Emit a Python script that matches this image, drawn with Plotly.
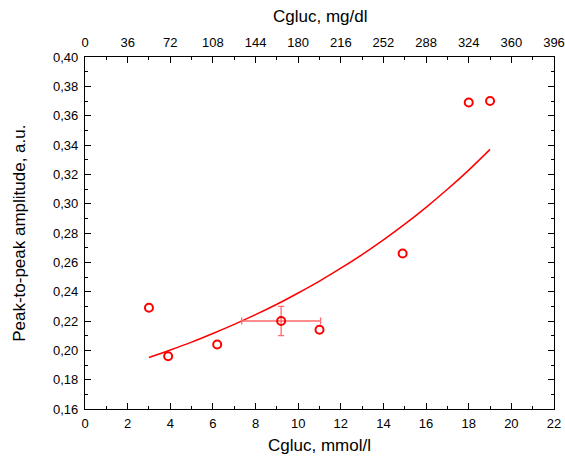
import plotly.graph_objects as go

# Measured points: glucose concentration (mmol/l) vs peak-to-peak amplitude
conc = [3.0, 3.9, 6.2, 11.0, 14.9, 18.0, 19.0]
amp = [0.229, 0.196, 0.204, 0.214, 0.266, 0.369, 0.370]

# Averaged point with its spread in both directions
mean_conc = [9.2]
mean_amp = [0.220]
conc_err = [1.85]
amp_err = [0.010]

# Exponential trend line through the data
fit_conc = [3, 4, 5, 6, 7, 8, 9, 10, 11, 12, 13, 14, 15, 16, 17, 18, 19]
fit_amp = [0.1951, 0.2002, 0.2056, 0.2115, 0.2177, 0.2243, 0.2314, 0.2391, 0.2472,
           0.2560, 0.2653, 0.2753, 0.2860, 0.2975, 0.3098, 0.3229, 0.3370]

# mmol/l -> mg/dl for the top scale
MGDL_PER_MMOL = 18
top_ticks = [0, 36, 72, 108, 144, 180, 216, 252, 288, 324, 360, 396]

RED = "#ff0000"
FONT = "Liberation Sans, Arial, sans-serif"

fig = go.Figure()

fig.add_trace(go.Scatter(
    x=fit_conc, y=fit_amp, mode="lines",
    line=dict(color=RED, width=1.5, shape="spline", smoothing=1.0),
    showlegend=False, hoverinfo="skip"))

fig.add_trace(go.Scatter(
    x=mean_conc, y=mean_amp, mode="markers",
    marker=dict(symbol="circle-open", size=8, color=RED, line=dict(width=2)),
    error_x=dict(type="data", array=conc_err, color="#ff6a6a", thickness=1.3, width=3.5),
    error_y=dict(type="data", array=amp_err, color="#ff6a6a", thickness=1.3, width=3),
    showlegend=False))

fig.add_trace(go.Scatter(
    x=conc, y=amp, mode="markers",
    marker=dict(symbol="circle-open", size=8, color=RED, line=dict(width=2)),
    showlegend=False))

# invisible trace anchoring the mg/dl axis
fig.add_trace(go.Scatter(
    x=top_ticks[:1], y=[0.3], xaxis="x2", mode="markers",
    marker=dict(opacity=0), showlegend=False, hoverinfo="skip"))

axis_common = dict(
    showgrid=False, zeroline=False, showline=True, linecolor="black", linewidth=1.3,
    ticks="inside", ticklen=6, tickwidth=1, tickcolor="black", automargin=False,
    tickfont=dict(family=FONT, size=13, color="black"),
)

TITLE_FONT = dict(family=FONT, size=17, color="black")

fig.update_layout(
    width=565, height=456,
    margin=dict(l=85, r=11, t=57, b=47, autoexpand=False),
    paper_bgcolor="white", plot_bgcolor="white",
    separators=", ",
    font=dict(family=FONT, color="black"),
    xaxis=dict(
        range=[0, 22], dtick=2, tick0=0, mirror=True, ticklabelstandoff=2,
        minor=dict(dtick=1, ticks="inside", ticklen=3, tickcolor="black"),
        **axis_common),
    xaxis2=dict(
        range=[0, 22 * MGDL_PER_MMOL], tickvals=top_ticks, overlaying="x", side="top",
        anchor="y", ticklabelstandoff=4,
        minor=dict(dtick=18, ticks="inside", ticklen=3, tickcolor="black"),
        **axis_common),
    yaxis=dict(
        range=[0.16, 0.40], dtick=0.02, tick0=0.16, tickformat=".2f", mirror="ticks",
        ticklabelstandoff=3,
        minor=dict(dtick=0.01, ticks="inside", ticklen=3, tickcolor="black"),
        **axis_common),
    annotations=[
        dict(text="Cgluc, mmol/l", xref="paper", yref="paper", x=0.5, y=-0.105,
             xanchor="center", yanchor="middle", showarrow=False, font=TITLE_FONT),
        dict(text="Cgluc, mg/dl", xref="paper", yref="paper", x=0.5, y=1.114,
             xanchor="center", yanchor="middle", showarrow=False, font=TITLE_FONT),
        dict(text="Peak-to-peak amplitude, a.u.", xref="paper", yref="paper",
             x=-0.141, y=0.5, xanchor="center", yanchor="middle", textangle=-90,
             showarrow=False, font=TITLE_FONT),
    ],
)

fig.write_html("out.html")
